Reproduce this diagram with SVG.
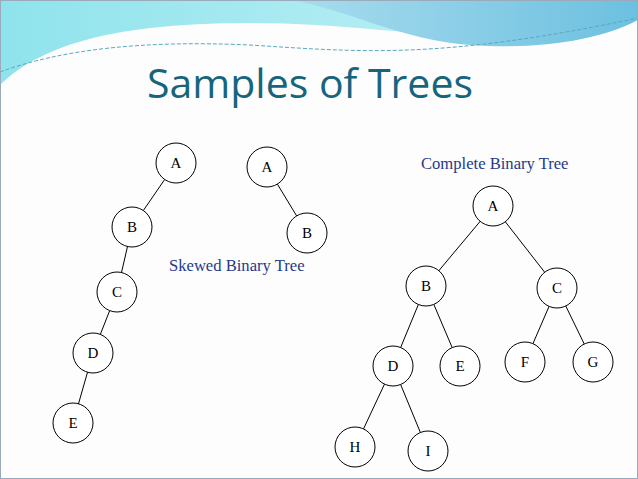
<svg xmlns="http://www.w3.org/2000/svg" width="638" height="479" viewBox="0 0 638 479">
<defs>
<linearGradient id="g1" x1="0" y1="0" x2="1" y2="0"><stop offset="0" stop-color="#8fe3ec"/><stop offset="1" stop-color="#c9f3f7"/></linearGradient>
<linearGradient id="g2" x1="0" y1="0" x2="1" y2="0"><stop offset="0" stop-color="#a9dcee"/><stop offset="1" stop-color="#6cc0e0"/></linearGradient>
</defs>
<style>
.n circle{fill:#fff;stroke:#000;stroke-width:1}
.n text{font-family:"Liberation Serif",serif;font-size:15px;text-anchor:middle;dominant-baseline:central}
#edges line{stroke:#000;stroke-width:1}
.lbl{font-family:"Liberation Serif",serif;font-size:16.6px;fill:#1f3a8a}
</style>
<rect width="638" height="479" fill="#fdfdfd"/>
<path d="M0,0 H638 V12 C560,40 450,35 380,30 C300,22 220,20 150,28 C80,36 30,55 0,85 Z" fill="url(#g1)"/>
<path d="M290,0 H638 V20 C600,40 540,50 470,45 C400,40 350,10 290,0 Z" fill="url(#g2)"/>
<path d="M0,72 C60,50 140,40 250,45 C360,52 440,60 638,18" fill="none" stroke="#5aa8c0" stroke-width="1" stroke-dasharray="4,2"/>
<rect x="0.5" y="0.5" width="637" height="478" fill="none" stroke="#9ab" stroke-width="1"/>
<text x="310" y="98" font-family="'Open Sans',sans-serif" font-size="41" fill="#17657d" text-anchor="middle">Samples of Trees</text>
<g id="edges">
<line x1="176" y1="163" x2="132" y2="227"/><line x1="132" y1="227" x2="117" y2="292"/><line x1="117" y1="292" x2="93" y2="353"/><line x1="93" y1="353" x2="73" y2="423"/>
<line x1="267" y1="167" x2="307" y2="233"/>
<line x1="493" y1="206" x2="426" y2="286"/><line x1="493" y1="206" x2="557" y2="288"/>
<line x1="426" y1="286" x2="393" y2="366"/><line x1="426" y1="286" x2="460" y2="366"/>
<line x1="557" y1="288" x2="525" y2="362"/><line x1="557" y1="288" x2="593" y2="362"/>
<line x1="393" y1="366" x2="355" y2="447"/><line x1="393" y1="366" x2="428" y2="451"/>
</g>
<g id="s1A" class="n"><circle cx="176" cy="163" r="20"/><text x="176" y="163">A</text></g>
<g id="s1B" class="n"><circle cx="132" cy="227" r="20"/><text x="132" y="227">B</text></g>
<g id="s1C" class="n"><circle cx="117" cy="292" r="20"/><text x="117" y="292">C</text></g>
<g id="s1D" class="n"><circle cx="93" cy="353" r="20"/><text x="93" y="353">D</text></g>
<g id="s1E" class="n"><circle cx="73" cy="423" r="20"/><text x="73" y="423">E</text></g>
<g id="s2A" class="n"><circle cx="267" cy="167" r="20"/><text x="267" y="167">A</text></g>
<g id="s2B" class="n"><circle cx="307" cy="233" r="20"/><text x="307" y="233">B</text></g>
<g id="cA" class="n"><circle cx="493" cy="206" r="20"/><text x="493" y="206">A</text></g>
<g id="cB" class="n"><circle cx="426" cy="286" r="20"/><text x="426" y="286">B</text></g>
<g id="cC" class="n"><circle cx="557" cy="288" r="20"/><text x="557" y="288">C</text></g>
<g id="cD" class="n"><circle cx="393" cy="366" r="20"/><text x="393" y="366">D</text></g>
<g id="cE" class="n"><circle cx="460" cy="366" r="20"/><text x="460" y="366">E</text></g>
<g id="cF" class="n"><circle cx="525" cy="362" r="20"/><text x="525" y="362">F</text></g>
<g id="cG" class="n"><circle cx="593" cy="362" r="20"/><text x="593" y="362">G</text></g>
<g id="cH" class="n"><circle cx="355" cy="447" r="20"/><text x="355" y="447">H</text></g>
<g id="cI" class="n"><circle cx="428" cy="451" r="20"/><text x="428" y="451">I</text></g>
<text class="lbl" x="169" y="271">Skewed Binary Tree</text>
<text class="lbl" x="421" y="169">Complete Binary Tree</text>
</svg>
